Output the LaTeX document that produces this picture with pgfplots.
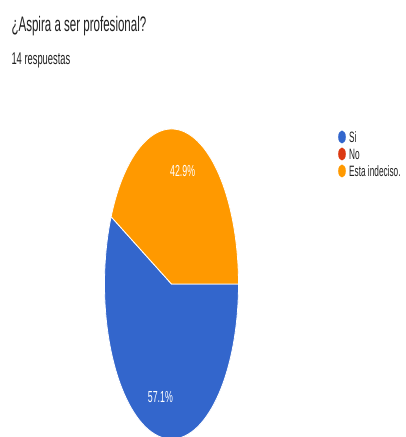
\documentclass[border=0pt]{standalone}
\usepackage{pgfplots}
\pgfplotsset{compat=1.18}
\usepackage{pgfplotstable}
\usetikzlibrary{calc}
\usepackage{fontspec}
\setmainfont{Liberation Sans}
\newfontfamily\cond[FakeStretch=0.55]{Liberation Sans}

\definecolor{siblue}{HTML}{3366CC}
\definecolor{nored}{HTML}{DC3912}
\definecolor{indorange}{HTML}{FF9900}
\definecolor{textgray}{HTML}{212121}

% respuestas por opcion
\pgfplotstableread{
label count
Si 8
No 0
Indeciso 6
}\respuestas
\pgfplotstablegetelem{0}{count}\of\respuestas \let\nSi\pgfplotsretval
\pgfplotstablegetelem{1}{count}\of\respuestas \let\nNo\pgfplotsretval
\pgfplotstablegetelem{2}{count}\of\respuestas \let\nInd\pgfplotsretval
\pgfmathsetmacro\total{\nSi+\nNo+\nInd}
% slices go clockwise from 3 o'clock
\pgfmathsetmacro\aSi{-360*\nSi/\total}
\pgfmathsetmacro\aNo{\aSi-360*\nNo/\total}
\pgfmathsetmacro\aInd{\aNo-360*\nInd/\total}
\pgfmathsetmacro\mSi{\aSi/2}
\pgfmathsetmacro\mInd{(\aNo+\aInd)/2}
\pgfmathsetmacro\pSi{100*\nSi/\total}
\pgfmathsetmacro\pInd{100*\nInd/\total}

\tikzset{legtext/.style={anchor=west, inner sep=0pt, text=textgray, font=\cond\fontsize{15}{15}\selectfont}}

\begin{document}
\begin{tikzpicture}
  \begin{axis}[
    scale only axis,
    width=406pt, height=437pt,
    xmin=0, xmax=406, ymin=0, ymax=437,
    hide axis,
    ]
    \path (axis cs:0,0) rectangle (axis cs:406,437);
    \coordinate (c) at (axis cs:171.5,153);
    \filldraw[fill=siblue, draw=white, line width=0.8pt]
      (c) -- +(0:67pt and 155pt) arc[start angle=0, end angle=\aSi, x radius=67pt, y radius=155pt] -- cycle;
    \filldraw[fill=indorange, draw=white, line width=0.8pt]
      (c) -- +(\aNo:67pt and 155pt) arc[start angle=\aNo, end angle=\aInd, x radius=67pt, y radius=155pt] -- cycle;

    \node[text=white, font=\cond\fontsize{16}{16}\selectfont] at ($(c)+(\mSi:50pt and 116pt)$)
      {\pgfmathprintnumber[fixed, precision=1, fixed zerofill, assume math mode=true]{\pSi}\%};
    \node[text=white, font=\cond\fontsize{16}{16}\selectfont] at ($(c)+(\mInd:50pt and 116pt)$)
      {\pgfmathprintnumber[fixed, precision=1, fixed zerofill, assume math mode=true]{\pInd}\%};

    \node[anchor=base west, text=textgray, font=\cond\fontsize{21}{21}\selectfont]
      at (axis cs:8,405) {¿Aspira a ser profesional?};
    \node[anchor=base west, text=textgray, font=\cond\fontsize{17}{17}\selectfont]
      at (axis cs:8,372) {14 respuestas};

    % leyenda
    \fill[siblue] (axis cs:342,300) ellipse[x radius=3.8pt, y radius=6.5pt];
    \node[legtext] at (axis cs:349,300) {Si};
    \fill[nored] (axis cs:342,283) ellipse[x radius=3.8pt, y radius=6.5pt];
    \node[legtext] at (axis cs:349,283) {No};
    \fill[indorange] (axis cs:342,266) ellipse[x radius=3.8pt, y radius=6.5pt];
    \node[legtext] at (axis cs:349,266) {Esta indeciso.};
  \end{axis}
\end{tikzpicture}
\end{document}
